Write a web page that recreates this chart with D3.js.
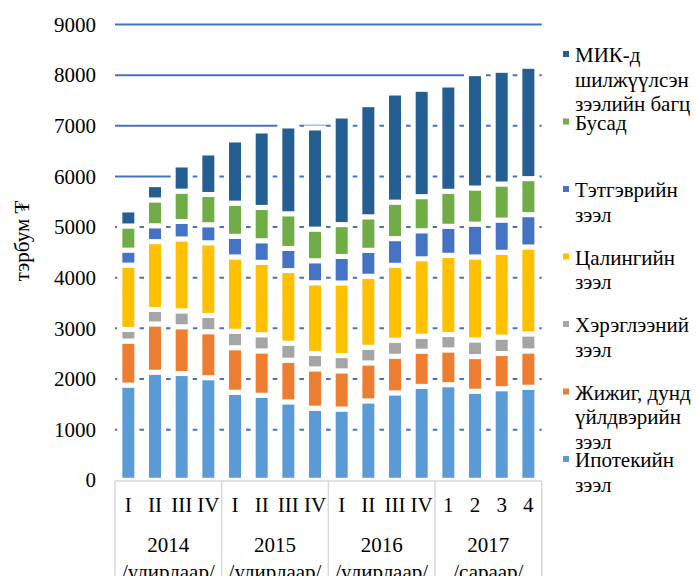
<!DOCTYPE html>
<html lang="mn">
<head>
<meta charset="UTF-8">
<title>Зээлийн бүтэц</title>
<script src="https://cdn.jsdelivr.net/npm/d3@7"></script>
<style>
    body { margin: 0; background: #fff; }
    svg text { font-family: "Liberation Serif", "Times New Roman", "DejaVu Serif", serif; fill: #000; font-size: 21px; }
    .grid { stroke: #4472C4; stroke-width: 2; }
    .catline { stroke: #D9D9D9; stroke-width: 1.5; }
</style>
</head>
<body>
<svg id="chart" width="696" height="576"></svg>
<script>
// categories (x axis)
var quarters = ["I", "II", "III", "IV", "I", "II", "III", "IV", "I", "II", "III", "IV", "1", "2", "3", "4"];
var years = ["2014", "2015", "2016", "2017"];
var yearNotes = ["/улирлаар/", "/улирлаар/", "/улирлаар/", "/сараар/"];
var yTicks = [0, 1000, 2000, 3000, 4000, 5000, 6000, 7000, 8000, 9000];

// series, bottom to top (тэрбум ₮)
var mortgage = [1881, 2134, 2108, 2026, 1739, 1680, 1549, 1424, 1407, 1568, 1726, 1855, 1888, 1759, 1809, 1838];
var sme      = [868, 954, 924, 908, 879, 875, 822, 776, 754, 750, 724, 694, 687, 684, 694, 717];
var consumer = [231, 286, 313, 322, 325, 319, 336, 306, 302, 310, 316, 296, 303, 329, 325, 336];
var salary   = [1269, 1339, 1421, 1434, 1468, 1431, 1434, 1395, 1434, 1401, 1480, 1529, 1565, 1639, 1675, 1717];
var pension  = [296, 313, 345, 356, 407, 425, 437, 434, 523, 513, 526, 553, 573, 648, 635, 638];
var other    = [477, 510, 599, 598, 655, 658, 685, 625, 629, 661, 721, 674, 691, 713, 713, 711];
var mik      = [316, 302, 516, 819, 1247, 1509, 1733, 1997, 2144, 2214, 2154, 2119, 2098, 2257, 2244, 2217];

var seriesNames = ["Ипотекийн зээл", "Жижиг, дунд үйлдвэрийн зээл", "Хэрэглээний зээл",
                   "Цалингийн зээл", "Тэтгэврийн зээл", "Бусад", "МИК-д шилжүүлсэн зээлийн багц"];
var seriesColors = ["#5B9BD5", "#ED7D31", "#A5A5A5", "#FFC000", "#4472C4", "#70AD47", "#255E91"];
// legend text, top to bottom, broken as in the picture
var legendLines = [
    ["МИК-д", "шилжүүлсэн", "зээлийн багц"],
    ["Бусад"],
    ["Тэтгэврийн", "зээл"],
    ["Цалингийн", "зээл"],
    ["Хэрэглээний", "зээл"],
    ["Жижиг, дунд", "үйлдвэрийн", "зээл"],
    ["Ипотекийн", "зээл"]
];

var svg = d3.select("#chart");
var plotLeft = 115, plotRight = 541.7, plotTop = 24.5, plotBottom = 480.3;

var keys = quarters.map(function(q, i) { return years[Math.floor(i / 4)] + "-" + q; });
var xs = d3.scaleBand().domain(keys).range([plotLeft, plotRight])
    .paddingInner(0.3625).paddingOuter(0.18125);
var ys = d3.scaleLinear().domain([0, 9000]).range([plotBottom, plotTop]);

var allSeries = [mortgage, sme, consumer, salary, pension, other, mik];
var rows = keys.map(function(k, i) {
    var r = { key: k };
    seriesNames.forEach(function(n, j) { r[n] = allSeries[j][i]; });
    return r;
});
var stacked = d3.stack().keys(seriesNames)(rows);

// grid lines (bars are drawn over them with a white edge)
svg.append("g").selectAll("line")
    .data(yTicks.slice(1))
    .enter().append("line")
    .attr("class", "grid")
    .attr("x1", plotLeft).attr("x2", plotRight)
    .attr("y1", function(d) { return ys(d); })
    .attr("y2", function(d) { return ys(d); });

// y tick labels
svg.append("g").selectAll("text")
    .data(yTicks)
    .enter().append("text")
    .attr("x", 96)
    .attr("y", function(d) { return ys(d); })
    .attr("dy", "0.34em")
    .attr("text-anchor", "end")
    .text(function(d) { return d; });

// y title
svg.append("text")
    .attr("transform", "translate(29,241) rotate(-90)")
    .attr("text-anchor", "middle")
    .text("тэрбум ₮");

// stacked bars
svg.append("g").selectAll("g")
    .data(stacked)
    .enter().append("g")
    .attr("fill", function(d, i) { return seriesColors[i]; })
    .selectAll("rect")
    .data(function(d) { return d; })
    .enter().append("rect")
    .attr("x", function(d) { return xs(d.data.key); })
    .attr("width", xs.bandwidth())
    .attr("y", function(d) { return ys(d[1]); })
    .attr("height", function(d) { return ys(d[0]) - ys(d[1]); })
    .attr("stroke", "#fff")
    .attr("stroke-width", 5);

// category axis boxes
var groupW = (plotRight - plotLeft) / 4;
svg.append("line").attr("class", "catline")
    .attr("x1", plotLeft).attr("x2", plotRight)
    .attr("y1", 481).attr("y2", 481);
svg.append("g").selectAll("line")
    .data(d3.range(5))
    .enter().append("line")
    .attr("class", "catline")
    .attr("x1", function(d) { return plotLeft + d * groupW; })
    .attr("x2", function(d) { return plotLeft + d * groupW; })
    .attr("y1", 481).attr("y2", 600);

svg.append("g").selectAll("text")
    .data(keys)
    .enter().append("text")
    .attr("x", function(d) { return xs(d) + xs.bandwidth() / 2; })
    .attr("y", 512)
    .attr("text-anchor", "middle")
    .text(function(d, i) { return quarters[i]; });

var yearG = svg.append("g").selectAll("text")
    .data(years)
    .enter().append("text")
    .attr("text-anchor", "middle");
yearG.append("tspan")
    .attr("x", function(d, i) { return plotLeft + (i + 0.5) * groupW; })
    .attr("y", 552)
    .text(function(d) { return d; });
yearG.append("tspan")
    .attr("x", function(d, i) { return plotLeft + (i + 0.5) * groupW; })
    .attr("y", 579)
    .text(function(d, i) { return yearNotes[i]; });

// legend
var legend = svg.append("g").selectAll("g")
    .data(legendLines)
    .enter().append("g")
    .attr("transform", function(d, i) { return "translate(563," + (62 + i * 67.5) + ")"; });
legend.append("rect")
    .attr("x", 0).attr("y", -11)
    .attr("width", 6).attr("height", 6)
    .attr("fill", function(d, i) { return seriesColors[seriesColors.length - 1 - i]; });
legend.append("text")
    .selectAll("tspan")
    .data(function(d) { return d; })
    .enter().append("tspan")
    .attr("x", 12)
    .attr("y", function(d, j) { return j * 24.5; })
    .text(function(d) { return d; });
</script>
</body>
</html>
